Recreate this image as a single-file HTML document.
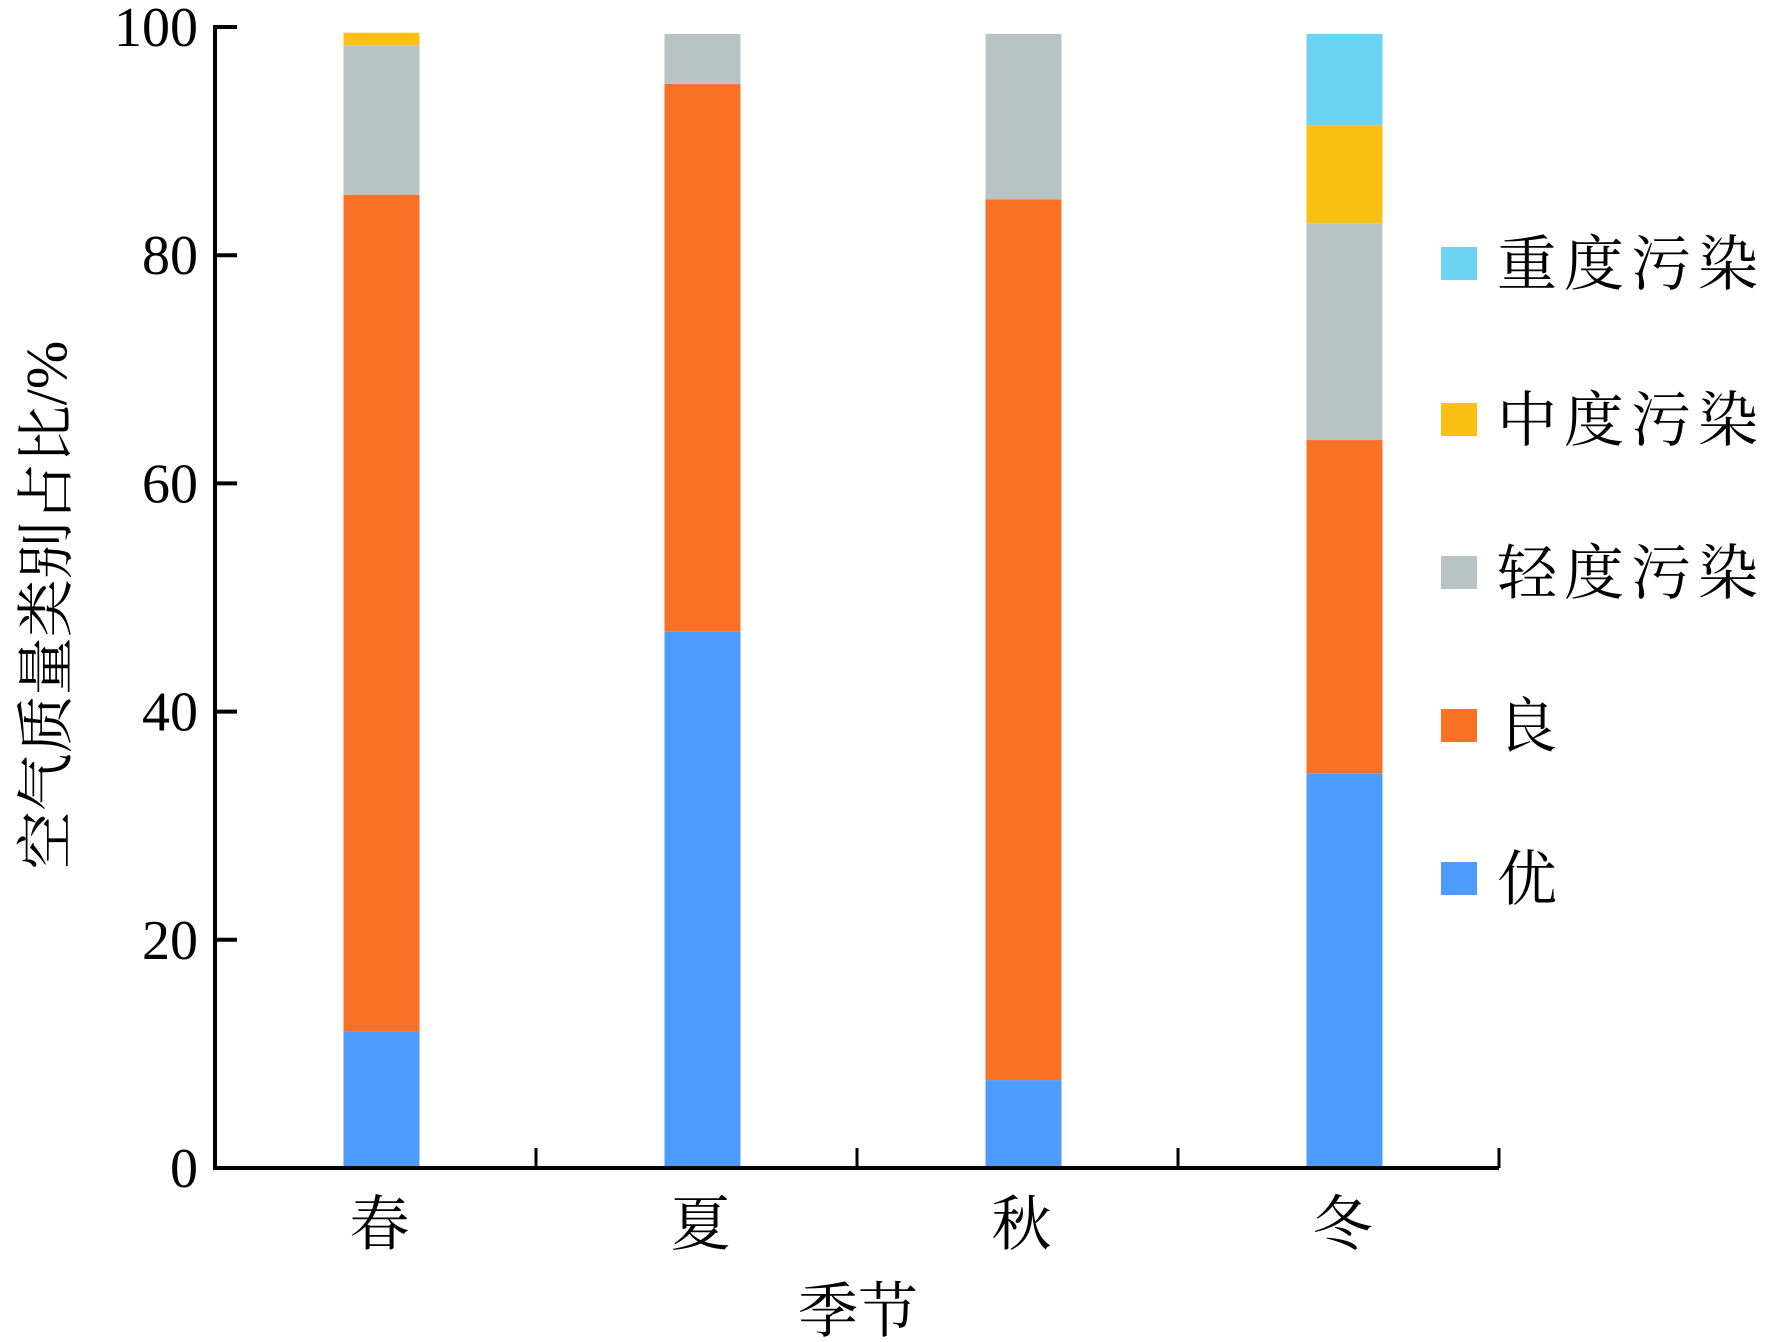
<!DOCTYPE html>
<html><head><meta charset="utf-8"><style>
html,body{margin:0;padding:0;background:#fff;}
svg{display:block;}
text{font-family:"Liberation Serif","Noto Serif CJK SC",serif;fill:#000;}
</style></head><body>
<svg id="chart" width="1772" height="1342" viewBox="0 0 1772 1342" xmlns="http://www.w3.org/2000/svg"></svg>
<script>
const categories = ["春","夏","秋","冬"];
const seriesNames = ["优","良","轻度污染","中度污染","重度污染"];
const youVals = [12.0, 47.0, 7.7, 34.6];
const liangVals = [73.3, 48.0, 77.2, 29.2];
const qingVals = [13.1, 4.4, 14.5, 19.0];
const zhongVals = [1.1, 0, 0, 8.6];
const zhongduVals = [0, 0, 0, 8.0];
const yTicks = [0,20,40,60,80,100];

const colors = ["#4d9bfb","#f97124","#b8c4c3","#fbc014","#6dd3f4"];
const series = [youVals, liangVals, qingVals, zhongVals, zhongduVals];
const NS="http://www.w3.org/2000/svg";
const svg=document.getElementById('chart');
const X0=215, X1=1499, Y0=1168, Y100=27;
const yScale=v=>Y0-(Y0-Y100)*v/100;
const band=(X1-X0)/categories.length;
const xCenter=i=>X0+band*(i+0.5)+6;
const barW=76;
function mk(tag,attrs){const e=document.createElementNS(NS,tag);for(const k in attrs)e.setAttribute(k,attrs[k]);svg.appendChild(e);return e;}

// bars
categories.forEach((c,i)=>{
  let acc=0;
  series.forEach((s,j)=>{
    const v=s[i]; if(!v) return;
    const yT=yScale(acc+v), yB=yScale(acc);
    const r=mk('rect',{x:xCenter(i)-barW/2,y:yT,width:barW,height:yB-yT,fill:colors[j]});
    
    
    acc+=v;
  });
});

// axes
const ya=mk('line',{x1:X0,y1:Y100-2,x2:X0,y2:Y0+2,stroke:'#000','stroke-width':4});


const xa=mk('line',{x1:X0-2,y1:Y0,x2:X1,y2:Y0,stroke:'#000','stroke-width':4});



yTicks.forEach(t=>{
  const y=yScale(t);
  const tk=mk('line',{x1:X0,y1:y,x2:X0+22,y2:y,stroke:'#000','stroke-width':4});
  
  
  const tx=mk('text',{x:198,y:y+19,'text-anchor':'end','font-size':56});
  tx.textContent=t;
  
  
});
for(let i=1;i<=categories.length;i++){
  const x=X0+band*i;
  const tk=mk('line',{x1:x,y1:Y0,x2:x,y2:Y0-20,stroke:'#000','stroke-width':3});
  
  
}
categories.forEach((c,i)=>{
  const tx=mk('text',{x:xCenter(i)-2,y:1245,'text-anchor':'middle','font-size':60});
  tx.textContent=c;
  
  
});

const xt=mk('text',{x:858,y:1332,'text-anchor':'middle','font-size':60});
xt.textContent='季节';


const yt=mk('text',{x:0,y:0,'text-anchor':'middle','font-size':58,transform:'translate(66,605) rotate(-90)'});
yt.textContent='空气质量类别占比/%';



// legend (top to bottom: reversed series)
const legY=[264,420,573,726,879];
for(let k=0;k<5;k++){
  const j=4-k;
  const g=document.createElementNS(NS,'g');
  
  
  svg.appendChild(g);
  const r=document.createElementNS(NS,'rect');
  r.setAttribute('x',1441);r.setAttribute('y',legY[k]-17);r.setAttribute('width',36);r.setAttribute('height',33);r.setAttribute('fill',colors[j]);
  
  
  g.appendChild(r);
  const t=document.createElementNS(NS,'text');
  t.setAttribute('x',1497);t.setAttribute('y',legY[k]+21);t.setAttribute('font-size',60);t.setAttribute('letter-spacing',7);
  t.textContent=seriesNames[j];
  
  
  g.appendChild(t);
}
</script>
</body></html>
